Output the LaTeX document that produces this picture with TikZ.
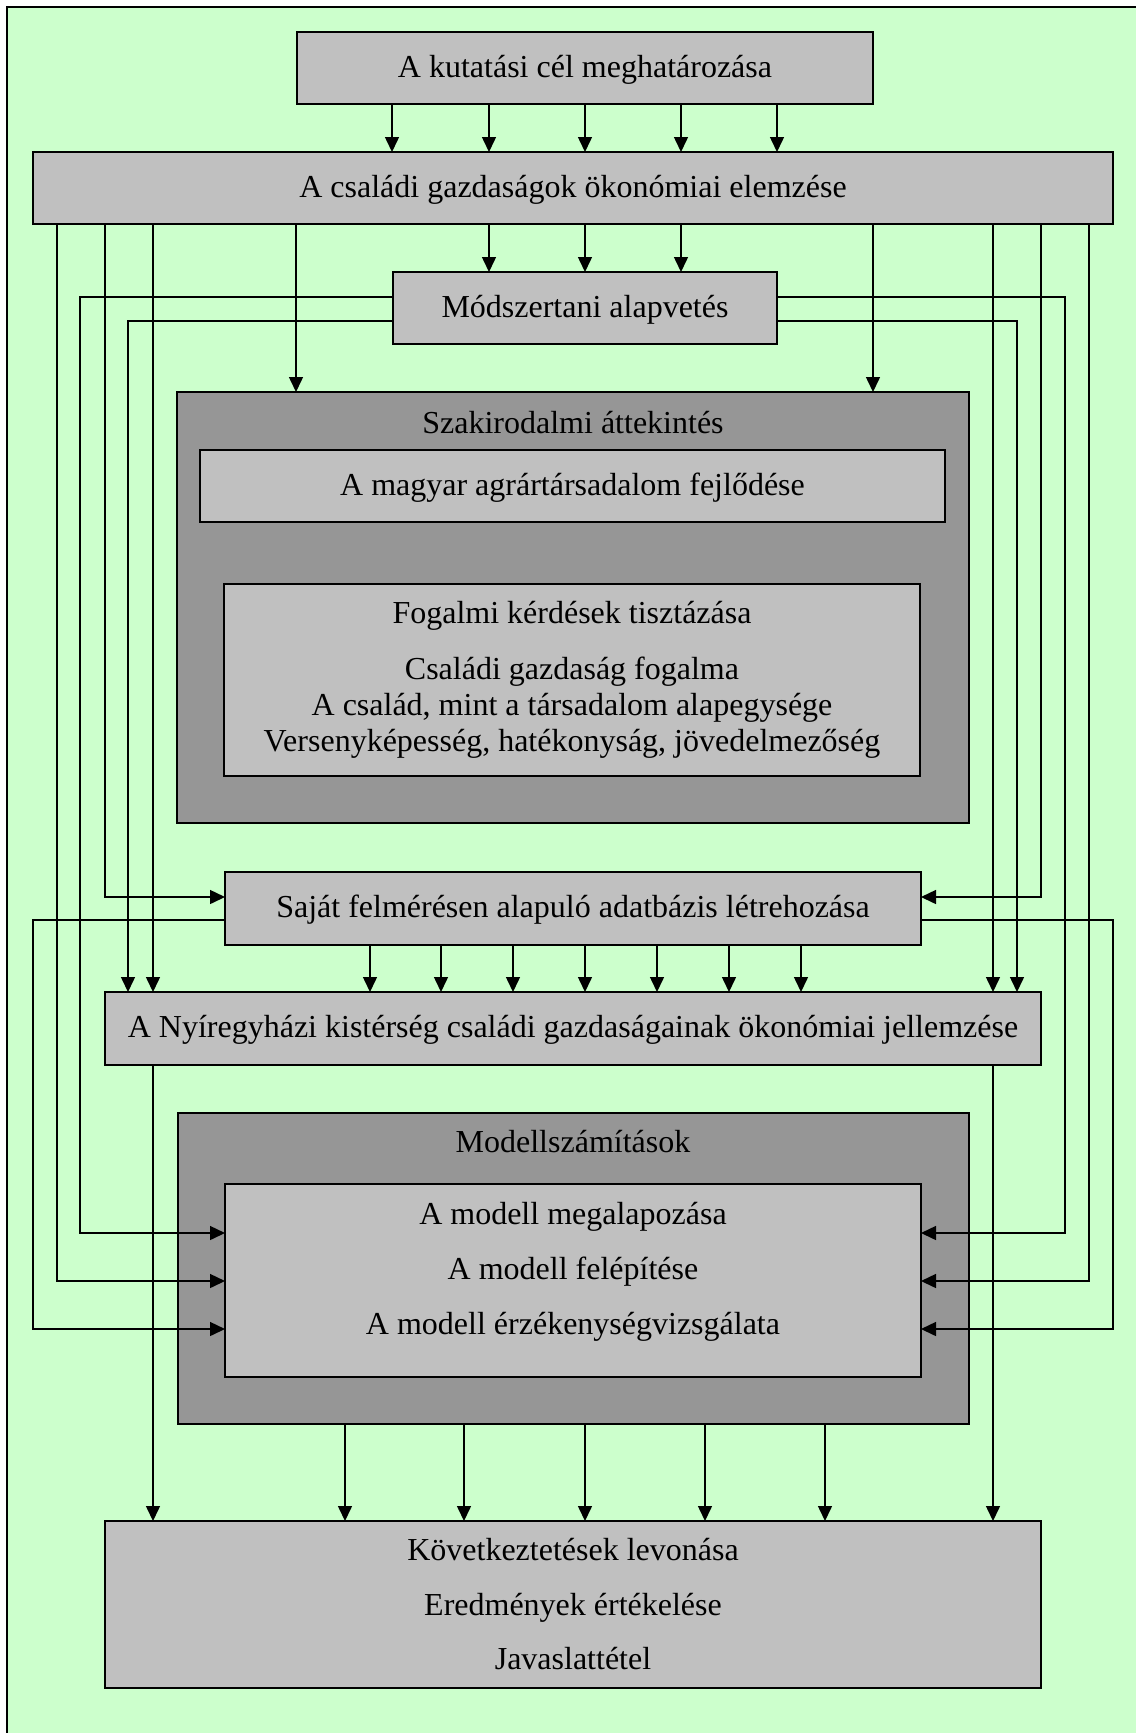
\documentclass[tikz,border=0pt]{standalone}
\usepackage{fontspec}
\setmainfont{Liberation Serif}
\usetikzlibrary{arrows.meta}
\definecolor{bggreen}{HTML}{CCFFCC}
\definecolor{lgray}{HTML}{C0C0C0}
\definecolor{dgray}{HTML}{969696}
\begin{document}
\begin{tikzpicture}[x=1pt,y=-1pt,
  lbox/.style={draw=black, line width=2pt, fill=lgray, inner sep=0pt, outer sep=0pt},
  dbox/.style={draw=black, line width=2pt, fill=dgray, inner sep=0pt, outer sep=0pt},
  txt/.style={font=\fontsize{32}{37}\selectfont, inner sep=0pt, text height=23pt, text depth=5pt},
  conn/.style={line width=1.5pt, draw=black},
  arr/.style={conn, -{Triangle[length=15pt,width=14pt]}}]
% page and frame
\useasboundingbox (0,0) rectangle (1136,1733);
\fill[white] (0,0) rectangle (1136,1733);
\fill[bggreen] (7,7) rectangle (1136,1733);
\draw[line width=2.5pt] (7,1733) -- (7,7) -- (1136,7);

% boxes
\node[lbox, minimum width=576, minimum height=72] (box1) at (585,68) {};
\node[txt] (t1) at (box1.center) {A kutatási cél meghatározása};
\node[lbox, minimum width=1080, minimum height=72] (box2) at (573,188) {};
\node[txt] (t2) at (box2.center) {A családi gazdaságok ökonómiai elemzése};
\node[lbox, minimum width=384, minimum height=72] (modsz) at (585,308) {};
\node[txt] (t3) at (modsz.center) {Módszertani alapvetés};

\node[dbox, minimum width=792, minimum height=431] (szak) at (573,607.5) {};
\node[txt] (t4) at (573,424) {Szakirodalmi áttekintés};
\node[lbox, minimum width=745, minimum height=72] (magyar) at (572.5,486) {};
\node[txt] (t5) at (magyar.center) {A magyar agrártársadalom fejlődése};
\node[lbox, minimum width=696, minimum height=192] (fogalmi) at (572,680) {};
\node[txt] (t6) at (572,614) {Fogalmi kérdések tisztázása};
\node[txt] (t7) at (572,670) {Családi gazdaság fogalma};
\node[txt] (t8) at (572,706) {A család, mint a társadalom alapegysége};
\node[txt] (t9) at (572,742) {Versenyképesség, hatékonyság, jövedelmezőség};

\node[lbox, minimum width=696, minimum height=73] (sajat) at (573,908.5) {};
\node[txt] (t10) at (sajat.center) {Saját felmérésen alapuló adatbázis létrehozása};
\node[lbox, minimum width=936, minimum height=73] (nyir) at (573,1028.5) {};
\node[txt] (t11) at (nyir.center) {A Nyíregyházi kistérség családi gazdaságainak ökonómiai jellemzése};

\node[dbox, minimum width=791, minimum height=311] (modell) at (573.5,1268.5) {};
\node[txt] (t12) at (573,1143) {Modellszámítások};
\node[lbox, minimum width=696, minimum height=193] (inner) at (573,1280.5) {};
\node[txt] (t13) at (573,1215) {A modell megalapozása};
\node[txt] (t14) at (573,1270) {A modell felépítése};
\node[txt] (t15) at (573,1325) {A modell érzékenységvizsgálata};

\node[lbox, minimum width=936, minimum height=167] (final) at (573,1604.5) {};
\node[txt] (t16) at (573,1551) {Következtetések levonása};
\node[txt] (t17) at (573,1606) {Eredmények értékelése};
\node[txt] (t18) at (573,1660) {Javaslattétel};

% straight vertical arrows
\foreach \x in {392,489,585,681,777}{\coordinate (c) at (\x,0); \draw[arr] (box1.south -| c) -- (box2.north -| c);}
\foreach \x in {489,585,681}{\coordinate (c) at (\x,0); \draw[arr] (box2.south -| c) -- (modsz.north -| c);}
\foreach \x in {296,873}{\coordinate (c) at (\x,0); \draw[arr] (box2.south -| c) -- (szak.north -| c);}
\foreach \x in {153,993}{\coordinate (c) at (\x,0); \draw[arr] (box2.south -| c) -- (nyir.north -| c);}
\foreach \x in {370,441,513,585,657,729,801}{\coordinate (c) at (\x,0); \draw[arr] (sajat.south -| c) -- (nyir.north -| c);}
\foreach \x in {153,993}{\coordinate (c) at (\x,0); \draw[arr] (nyir.south -| c) -- (final.north -| c);}
\foreach \x in {345,464,585,705,825}{\coordinate (c) at (\x,0); \draw[arr] (modell.south -| c) -- (final.north -| c);}

% elbow connectors
\coordinate (L1) at (105,897);  \draw[arr] (box2.south -| L1) |- (sajat.west |- L1);
\coordinate (R1) at (1041,897); \draw[arr] (box2.south -| R1) |- (sajat.east |- R1);
\coordinate (L2) at (57,1281);  \draw[arr] (box2.south -| L2) |- (inner.west |- L2);
\coordinate (R2) at (1089,1281);\draw[arr] (box2.south -| R2) |- (inner.east |- R2);
\coordinate (L3a) at (80,297); \coordinate (L3b) at (80,1233);
\draw[arr] (modsz.west |- L3a) -- (L3a) -- (L3b) -- (inner.west |- L3b);
\coordinate (R3a) at (1065,297); \coordinate (R3b) at (1065,1233);
\draw[arr] (modsz.east |- R3a) -- (R3a) -- (R3b) -- (inner.east |- R3b);
\coordinate (L4) at (128,321);  \draw[arr] (modsz.west |- L4) -| (nyir.north -| L4);
\coordinate (R4) at (1017,321); \draw[arr] (modsz.east |- R4) -| (nyir.north -| R4);
\coordinate (L5a) at (33,920); \coordinate (L5b) at (33,1329);
\draw[arr] (sajat.west |- L5a) -- (L5a) -- (L5b) -- (inner.west |- L5b);
\coordinate (R5a) at (1113,920); \coordinate (R5b) at (1113,1329);
\draw[arr] (sajat.east |- R5a) -- (R5a) -- (R5b) -- (inner.east |- R5b);
\end{tikzpicture}
\end{document}
